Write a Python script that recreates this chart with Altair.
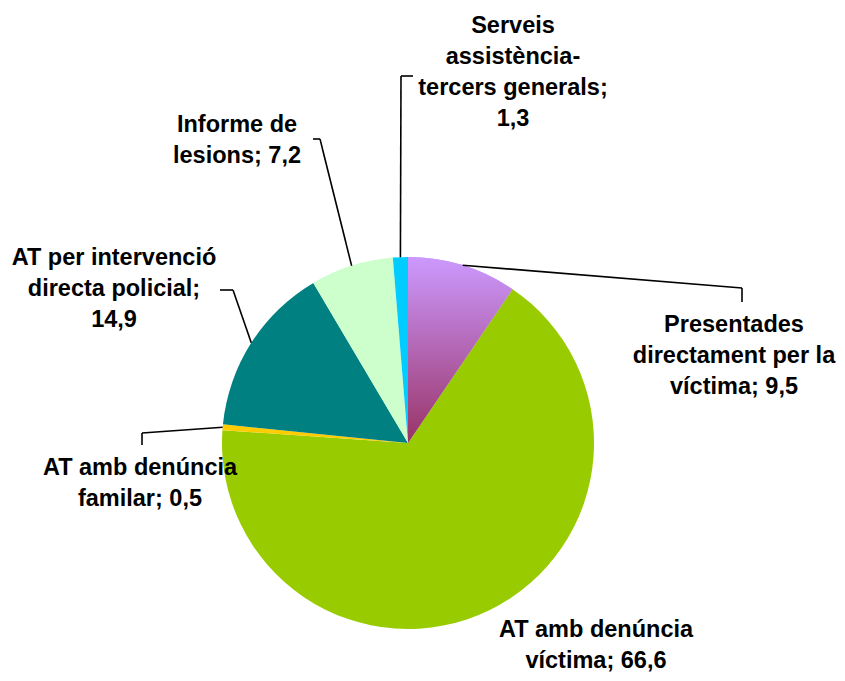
import altair as alt
import pandas as pd

# ---- data ----
categories = [
    "Presentades directament per la víctima",
    "AT amb denúncia víctima",
    "AT amb denúncia familar",
    "AT per intervenció directa policial",
    "Informe de lesions",
    "Serveis assistència-tercers generals",
]
values = [9.5, 66.6, 0.5, 14.9, 7.2, 1.3]
label_templates = [
    "Presentades\ndirectament per la\nvíctima; {v}",
    "AT amb denúncia\nvíctima; {v}",
    "AT amb denúncia\nfamilar; {v}",
    "AT per intervenció\ndirecta policial;\n{v}",
    "Informe de\nlesions; {v}",
    "Serveis\nassistència-\ntercers generals;\n{v}",
]

# ---- style / layout ----
colors = ["#CC99FF", "#99CC00", "#FFCC00", "#008080", "#CCFFCC", "#00CCFF"]
W, H = 829, 665
CX, CY, R = 400, 435, 186
# label anchor (center x, first baseline y)
label_x = [726, 588, 132, 106, 229, 505]
label_y = [324, 629, 467, 257, 124, 25]
# leader line elbow and end points (None = no leader)
elbow_x = [734, None, 134, 225, 312, 393]
elbow_y = [280, None, 425, 282, 131, 68]
end_x = [734, None, 134, 212, 305, 405]
end_y = [294, None, 437, 282, 131, 68]

labels = [t.format(v=f"{v:.1f}".replace(".", ",")) for t, v in zip(label_templates, values)]

df = pd.DataFrame({
    "category": categories,
    "value": values,
    "order": list(range(len(categories))),
    "label": labels,
    "lx": label_x, "ly": label_y,
    "bx": elbow_x, "by": elbow_y,
    "ex": end_x, "ey": end_y,
})

base = alt.Chart(df).transform_window(
    cum="sum(value)", sort=[alt.SortField("order", order="ascending")], frame=[None, 0]
).transform_calculate(
    start="datum.cum - datum.value",
    mid="datum.cum - datum.value / 2",
).transform_calculate(
    sx=f"{CX} + {R} * sin(2 * PI * datum.mid / 100)",
    sy=f"{CY} - {R} * cos(2 * PI * datum.mid / 100)",
)

tscale = alt.Scale(domain=[0, 100])
xs = alt.Scale(domain=[0, W], range=[0, W])
ys = alt.Scale(domain=[0, H], range=[0, H])

pie = base.mark_arc(radius=R).encode(
    theta=alt.Theta("start:Q", scale=tscale),
    theta2="cum:Q",
    color=alt.Color("category:N", scale=alt.Scale(domain=categories, range=colors), legend=None),
    x=alt.value(CX),
    y=alt.value(CY),
)

grad = base.transform_filter("datum.order == 0").mark_arc(
    radius=R,
    fill=alt.Gradient(
        gradient="linear",
        stops=[alt.GradientStop(color="#CC99FF", offset=0), alt.GradientStop(color="#993366", offset=1)],
        x1=0, x2=0, y1=0, y2=1,
    ),
).encode(
    theta=alt.Theta("start:Q", scale=tscale),
    theta2="cum:Q",
    x=alt.value(CX),
    y=alt.value(CY),
)

leaders = base.transform_filter("isValid(datum.bx)")
rule1 = leaders.mark_rule(color="black", strokeWidth=1.6).encode(
    x=alt.X("sx:Q", scale=xs, axis=None),
    y=alt.Y("sy:Q", scale=ys, axis=None),
    x2="bx:Q",
    y2="by:Q",
)
rule2 = leaders.mark_rule(color="black", strokeWidth=1.6).encode(
    x=alt.X("bx:Q", scale=xs, axis=None),
    y=alt.Y("by:Q", scale=ys, axis=None),
    x2="ex:Q",
    y2="ey:Q",
)

text = base.mark_text(
    font="Liberation Sans", fontWeight="bold", fontSize=23.5, lineBreak="\n",
    lineHeight=31, align="center", baseline="alphabetic", color="black",
).encode(
    x=alt.X("lx:Q", scale=xs, axis=None),
    y=alt.Y("ly:Q", scale=ys, axis=None),
    text="label:N",
)

chart = alt.layer(pie, grad, rule1, rule2, text).properties(
    width=W, height=H, autosize=alt.AutoSizeParams(type="none"), padding=0,
).configure_view(stroke=None)

chart.save("out.html", embed_options={"renderer": "svg", "actions": False})
